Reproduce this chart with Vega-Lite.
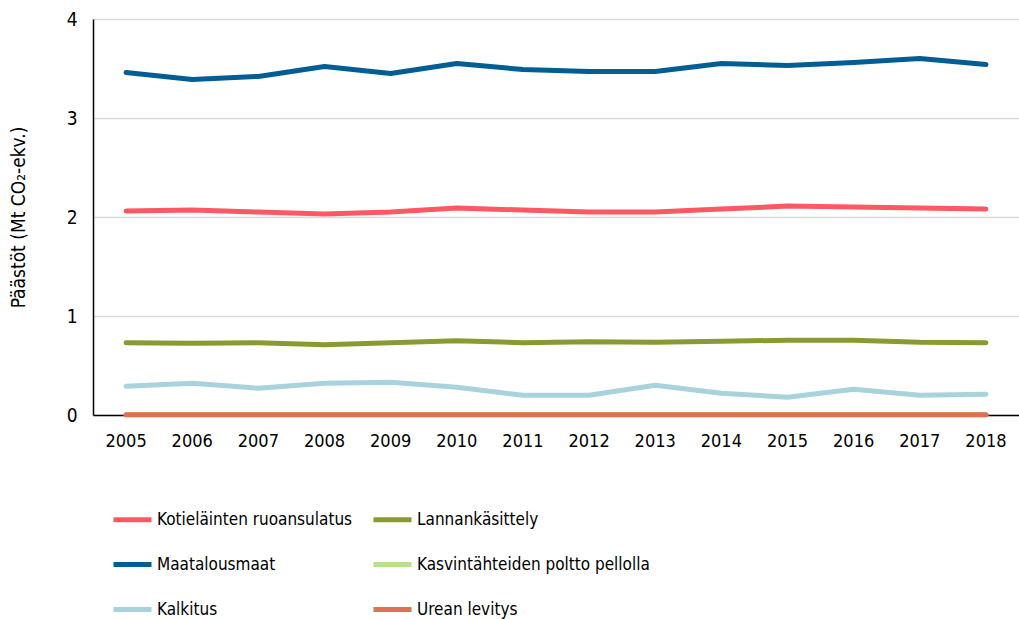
{
  "$schema": "https://vega.github.io/schema/vega-lite/v6.json",
  "width": 926,
  "height": 396,
  "autosize": {"type": "none"},
  "padding": {"left": 93, "top": 19, "right": 0, "bottom": 204},
  "background": "white",
  "config": {
    "font": "DejaVu Sans Condensed, Roboto",
    "view": {"stroke": null}
  },
  "data": {
    "values": [
      {"year": "2005", "series": "Kotieläinten ruoansulatus", "value": 2.06},
      {"year": "2006", "series": "Kotieläinten ruoansulatus", "value": 2.07},
      {"year": "2007", "series": "Kotieläinten ruoansulatus", "value": 2.05},
      {"year": "2008", "series": "Kotieläinten ruoansulatus", "value": 2.03},
      {"year": "2009", "series": "Kotieläinten ruoansulatus", "value": 2.05},
      {"year": "2010", "series": "Kotieläinten ruoansulatus", "value": 2.09},
      {"year": "2011", "series": "Kotieläinten ruoansulatus", "value": 2.07},
      {"year": "2012", "series": "Kotieläinten ruoansulatus", "value": 2.05},
      {"year": "2013", "series": "Kotieläinten ruoansulatus", "value": 2.05},
      {"year": "2014", "series": "Kotieläinten ruoansulatus", "value": 2.08},
      {"year": "2015", "series": "Kotieläinten ruoansulatus", "value": 2.11},
      {"year": "2016", "series": "Kotieläinten ruoansulatus", "value": 2.10},
      {"year": "2017", "series": "Kotieläinten ruoansulatus", "value": 2.09},
      {"year": "2018", "series": "Kotieläinten ruoansulatus", "value": 2.08},
      {"year": "2005", "series": "Lannankäsittely", "value": 0.73},
      {"year": "2006", "series": "Lannankäsittely", "value": 0.725},
      {"year": "2007", "series": "Lannankäsittely", "value": 0.73},
      {"year": "2008", "series": "Lannankäsittely", "value": 0.71},
      {"year": "2009", "series": "Lannankäsittely", "value": 0.73},
      {"year": "2010", "series": "Lannankäsittely", "value": 0.75},
      {"year": "2011", "series": "Lannankäsittely", "value": 0.73},
      {"year": "2012", "series": "Lannankäsittely", "value": 0.74},
      {"year": "2013", "series": "Lannankäsittely", "value": 0.735},
      {"year": "2014", "series": "Lannankäsittely", "value": 0.745},
      {"year": "2015", "series": "Lannankäsittely", "value": 0.755},
      {"year": "2016", "series": "Lannankäsittely", "value": 0.755},
      {"year": "2017", "series": "Lannankäsittely", "value": 0.735},
      {"year": "2018", "series": "Lannankäsittely", "value": 0.73},
      {"year": "2005", "series": "Maatalousmaat", "value": 3.46},
      {"year": "2006", "series": "Maatalousmaat", "value": 3.39},
      {"year": "2007", "series": "Maatalousmaat", "value": 3.42},
      {"year": "2008", "series": "Maatalousmaat", "value": 3.52},
      {"year": "2009", "series": "Maatalousmaat", "value": 3.45},
      {"year": "2010", "series": "Maatalousmaat", "value": 3.55},
      {"year": "2011", "series": "Maatalousmaat", "value": 3.49},
      {"year": "2012", "series": "Maatalousmaat", "value": 3.47},
      {"year": "2013", "series": "Maatalousmaat", "value": 3.47},
      {"year": "2014", "series": "Maatalousmaat", "value": 3.55},
      {"year": "2015", "series": "Maatalousmaat", "value": 3.53},
      {"year": "2016", "series": "Maatalousmaat", "value": 3.56},
      {"year": "2017", "series": "Maatalousmaat", "value": 3.60},
      {"year": "2018", "series": "Maatalousmaat", "value": 3.54},
      {"year": "2005", "series": "Kasvintähteiden poltto pellolla", "value": 0.002},
      {"year": "2006", "series": "Kasvintähteiden poltto pellolla", "value": 0.002},
      {"year": "2007", "series": "Kasvintähteiden poltto pellolla", "value": 0.002},
      {"year": "2008", "series": "Kasvintähteiden poltto pellolla", "value": 0.002},
      {"year": "2009", "series": "Kasvintähteiden poltto pellolla", "value": 0.002},
      {"year": "2010", "series": "Kasvintähteiden poltto pellolla", "value": 0.002},
      {"year": "2011", "series": "Kasvintähteiden poltto pellolla", "value": 0.002},
      {"year": "2012", "series": "Kasvintähteiden poltto pellolla", "value": 0.002},
      {"year": "2013", "series": "Kasvintähteiden poltto pellolla", "value": 0.002},
      {"year": "2014", "series": "Kasvintähteiden poltto pellolla", "value": 0.002},
      {"year": "2015", "series": "Kasvintähteiden poltto pellolla", "value": 0.002},
      {"year": "2016", "series": "Kasvintähteiden poltto pellolla", "value": 0.002},
      {"year": "2017", "series": "Kasvintähteiden poltto pellolla", "value": 0.002},
      {"year": "2018", "series": "Kasvintähteiden poltto pellolla", "value": 0.002},
      {"year": "2005", "series": "Kalkitus", "value": 0.29},
      {"year": "2006", "series": "Kalkitus", "value": 0.32},
      {"year": "2007", "series": "Kalkitus", "value": 0.27},
      {"year": "2008", "series": "Kalkitus", "value": 0.32},
      {"year": "2009", "series": "Kalkitus", "value": 0.33},
      {"year": "2010", "series": "Kalkitus", "value": 0.28},
      {"year": "2011", "series": "Kalkitus", "value": 0.20},
      {"year": "2012", "series": "Kalkitus", "value": 0.20},
      {"year": "2013", "series": "Kalkitus", "value": 0.30},
      {"year": "2014", "series": "Kalkitus", "value": 0.22},
      {"year": "2015", "series": "Kalkitus", "value": 0.18},
      {"year": "2016", "series": "Kalkitus", "value": 0.26},
      {"year": "2017", "series": "Kalkitus", "value": 0.20},
      {"year": "2018", "series": "Kalkitus", "value": 0.21},
      {"year": "2005", "series": "Urean levitys", "value": 0.003},
      {"year": "2006", "series": "Urean levitys", "value": 0.003},
      {"year": "2007", "series": "Urean levitys", "value": 0.003},
      {"year": "2008", "series": "Urean levitys", "value": 0.003},
      {"year": "2009", "series": "Urean levitys", "value": 0.003},
      {"year": "2010", "series": "Urean levitys", "value": 0.003},
      {"year": "2011", "series": "Urean levitys", "value": 0.003},
      {"year": "2012", "series": "Urean levitys", "value": 0.003},
      {"year": "2013", "series": "Urean levitys", "value": 0.003},
      {"year": "2014", "series": "Urean levitys", "value": 0.003},
      {"year": "2015", "series": "Urean levitys", "value": 0.003},
      {"year": "2016", "series": "Urean levitys", "value": 0.003},
      {"year": "2017", "series": "Urean levitys", "value": 0.003},
      {"year": "2018", "series": "Urean levitys", "value": 0.003}
    ]
  },
  "mark": {"type": "line", "strokeWidth": 5, "strokeCap": "round", "strokeJoin": "round"},
  "encoding": {
    "x": {
      "field": "year",
      "type": "ordinal",
      "scale": {"type": "band", "paddingInner": 0, "paddingOuter": 0},
      "axis": {
        "title": null,
        "labelAngle": 0,
        "labelFontSize": 18,
        "labelColor": "#000000",
        "labelPadding": 17,
        "ticks": false,
        "domainColor": "#000000",
        "domainWidth": 1.5,
        "grid": false
      }
    },
    "y": {
      "field": "value",
      "type": "quantitative",
      "scale": {"domain": [0, 4]},
      "axis": {
        "title": "Päästöt (Mt CO₂-ekv.)",
        "titleFontSize": 19,
        "titleFontWeight": "normal",
        "titleColor": "#000000",
        "titlePadding": 38,
        "values": [0, 1, 2, 3, 4],
        "labelFontSize": 19,
        "labelColor": "#000000",
        "labelPadding": 16,
        "ticks": false,
        "domainColor": "#000000",
        "domainWidth": 1.5,
        "grid": true,
        "gridColor": "#d9d9d9",
        "gridWidth": 1.5
      }
    },
    "color": {
      "field": "series",
      "type": "nominal",
      "sort": null,
      "scale": {
        "domain": ["Kotieläinten ruoansulatus", "Lannankäsittely", "Maatalousmaat", "Kasvintähteiden poltto pellolla", "Kalkitus", "Urean levitys"],
        "range": ["#fd5863", "#8a9a32", "#005e94", "#b6e28a", "#a9d3dc", "#df7051"]
      },
      "legend": {
        "title": null,
        "orient": "none",
        "legendX": 18,
        "legendY": 479,
        "direction": "horizontal",
        "columns": 2,
        "symbolType": "stroke",
        "symbolStrokeWidth": 5,
        "symbolSize": 1444,
        "labelFontSize": 17,
        "labelColor": "#000000",
        "labelOffset": 3,
        "rowPadding": 13,
        "columnPadding": 10,
        "labelLimit": 400
      }
    }
  }
}
